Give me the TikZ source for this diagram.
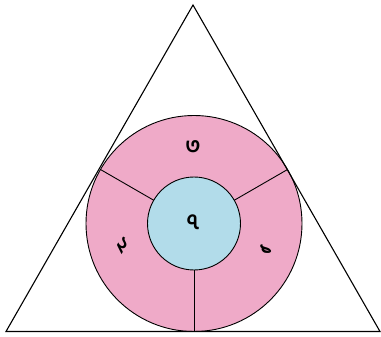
\documentclass[tikz,border=0pt]{standalone}
\usepackage{fontspec}
\usetikzlibrary{calc}
\newfontfamily\bnfont[Script=Bengali]{Hind Siliguri}
\definecolor{ringpink}{RGB}{239,170,200}
\definecolor{coreblue}{RGB}{178,220,234}
\begin{document}
\begin{tikzpicture}[x=1pt,y=-1pt,
  edge/.style={draw=black,line width=1.1pt},
  thin edge/.style={draw=black,line width=0.9pt},
  lbl/.style={font=\bnfont\bfseries\fontsize{22}{22}\selectfont,inner sep=0pt}]
\useasboundingbox (0,0) rectangle (381,337);
\coordinate (c) at (194,223.5);
\coordinate (apex) at (193,5);
\coordinate (bl) at (6,331.5);
\coordinate (br) at (380,331.5);
\fill[ringpink] (c) circle (108);
\draw[thin edge] (c) circle (108);
\draw[thin edge] ($(c)+(-30:46.5)$) -- ($(c)+(-30:108)$);
\draw[thin edge] ($(c)+(-150:46.5)$) -- ($(c)+(-150:108)$);
\draw[thin edge] ($(c)+(90:46.5)$) -- ($(c)+(90:108)$);
\fill[coreblue] (c) circle (46.5);
\draw[thin edge] (c) circle (46.5);
\draw[edge] (apex) -- (bl) -- (br) -- cycle;
\node[lbl] (t3) at (193,147) {৩};
\node[lbl] (t7) at (193,222) {৭};
\node[lbl,rotate=-30] (t2) at (122,246) {২};
\node[lbl,rotate=30] (t1) at (266,249) {১};
\end{tikzpicture}
\end{document}
